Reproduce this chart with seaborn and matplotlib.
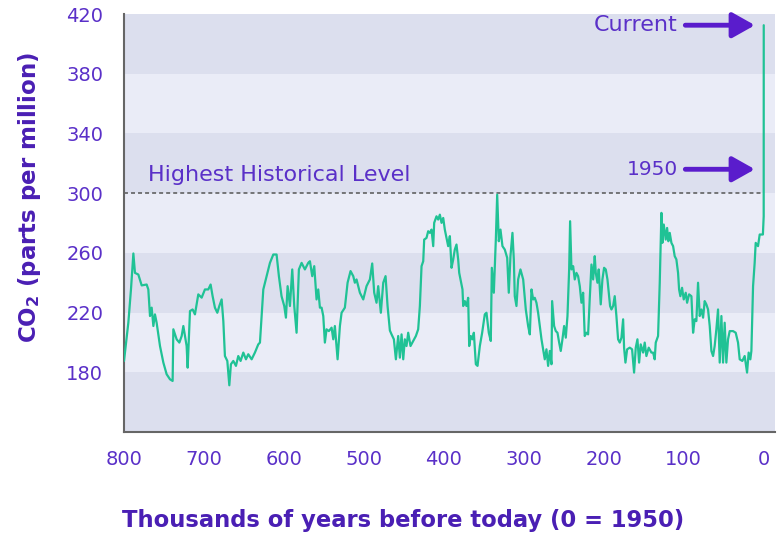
import numpy as np
import pandas as pd
import matplotlib
matplotlib.use("Agg")
import matplotlib.pyplot as plt
import seaborn as sns

# thousands of years before 1950 (negative = after 1950)
kyr_before = [
    800.0, 794.6, 791.3, 788.3, 786.3, 782.1, 777.9, 771.7, 769.6, 767.5, 765.4, 763.3, 761.3, 759.2,
    755.0, 750.8, 746.7, 742.5, 739.2, 738.3, 734.2, 730.8, 727.9, 725.8, 721.7, 720.4, 717.5, 714.2,
    711.3, 707.1, 702.9, 698.8, 694.6, 691.7, 689.2, 686.3, 683.3, 680.8, 677.9, 675.8, 673.8, 670.8,
    668.3, 666.3, 663.3, 660.0, 657.1, 654.2, 650.8, 647.5, 644.6, 640.4, 636.3, 632.1, 630.0, 625.8,
    621.7, 617.5, 613.3, 609.2, 606.3, 603.0, 599.6, 597.5, 595.4, 592.5, 589.6, 587.1, 584.2, 581.3,
    577.9, 573.8, 569.6, 567.5, 564.6, 562.1, 559.2, 557.1, 555.0, 552.9, 550.8, 548.8, 546.7, 543.8,
    540.4, 538.3, 536.3, 532.9, 530.0, 527.9, 523.8, 520.4, 516.7, 513.3, 511.3, 509.2, 505.0, 500.8,
    496.7, 492.5, 489.6, 487.1, 484.2, 482.1, 478.8, 475.8, 472.9, 470.4, 467.5, 465.4, 462.5, 460.0,
    457.1, 455.0, 452.9, 450.8, 448.8, 446.7, 444.6, 441.7, 438.3, 435.0, 432.1, 430.0, 427.9, 425.8,
    424.6, 421.7, 419.6, 417.5, 415.4, 413.3, 412.1, 409.2, 407.1, 405.0, 402.9, 400.8, 398.8, 396.7,
    394.6, 392.5, 390.4, 388.3, 386.3, 384.2, 382.1, 380.8, 379.2, 376.7, 375.8, 373.8, 371.7, 369.6,
    368.3, 366.3, 364.2, 362.5, 360.0, 357.9, 355.0, 352.1, 348.8, 346.7, 343.8, 341.3, 340.0, 337.5,
    335.0, 333.3, 331.3, 329.2, 326.7, 323.8, 320.8, 318.8, 316.7, 314.2, 312.5, 311.3, 309.2, 307.1,
    304.2, 300.8, 297.5, 294.6, 292.5, 290.4, 288.3, 286.3, 284.2, 282.1, 280.0, 277.9, 275.8, 273.8,
    271.7, 269.6, 267.5, 265.4, 264.6, 262.1, 260.0, 257.9, 255.8, 253.8, 251.7, 249.6, 247.5, 245.4,
    243.3, 242.1, 240.4, 238.3, 236.3, 234.2, 232.1, 230.0, 227.9, 225.8, 223.8, 221.7, 219.6, 217.5,
    215.4, 213.3, 211.3, 210.0, 207.9, 206.3, 203.8, 201.7, 199.6, 197.5, 195.4, 193.8, 192.1, 190.4,
    188.3, 186.3, 184.2, 182.1, 180.0, 177.9, 175.8, 174.6, 172.9, 170.8, 167.5, 164.6, 162.1, 160.0,
    157.9, 155.8, 153.8, 150.8, 148.8, 146.7, 143.8, 140.4, 138.3, 136.3, 135.0, 132.1, 130.0, 127.9,
    126.7, 125.0, 122.5, 120.8, 119.2, 117.5, 115.4, 113.3, 111.3, 109.2, 107.1, 105.8, 104.2, 102.1,
    100.0, 97.5, 95.8, 93.3, 90.4, 88.3, 86.3, 84.2, 82.1, 80.0, 77.9, 75.8, 73.8, 71.7,
    69.6, 67.5, 65.4, 63.3, 61.3, 59.2, 57.1, 55.0, 52.9, 50.8, 48.8, 46.7, 44.6, 42.5,
    38.3, 35.0, 32.1, 30.0, 26.7, 23.8, 20.8, 18.8, 16.7, 15.4, 13.3, 11.3, 10.0, 7.1,
    5.0, 1.0, 0.0, -0.07,
]
co2_ppm = [
    187.6, 213.2, 235.5, 259.6, 246.6, 245.5, 238.2, 238.8, 235.5, 217.7, 223.3, 211.0, 218.8, 213.2,
    197.6, 186.5, 178.7, 175.3, 174.2, 208.8, 202.1, 199.9, 204.3, 211.0, 197.6, 183.1, 221.0, 222.1,
    218.8, 232.2, 230.0, 235.5, 235.5, 238.8, 231.0, 223.3, 219.9, 224.4, 228.8, 214.3, 190.9, 187.6,
    171.3, 185.4, 187.6, 184.3, 190.9, 187.6, 193.2, 188.7, 192.1, 188.7, 193.2, 198.7, 199.9, 235.5,
    244.4, 253.3, 258.9, 258.9, 244.4, 231.0, 224.4, 216.6, 237.7, 224.4, 248.9, 224.4, 206.5, 248.9,
    253.3, 248.9, 253.3, 254.4, 244.4, 251.1, 228.8, 235.5, 223.3, 223.3, 217.7, 199.9, 208.8, 207.6,
    209.9, 202.1, 211.0, 188.7, 211.0, 219.9, 223.3, 240.0, 247.8, 244.4, 240.0, 242.2, 233.3, 228.8,
    237.7, 242.2, 252.9, 233.3, 226.6, 237.7, 219.9, 240.0, 244.4, 224.4, 208.0, 205.4, 202.1, 188.7,
    204.3, 189.8, 205.4, 188.7, 202.1, 197.6, 206.5, 197.6, 201.0, 204.3, 208.8, 224.4, 251.1, 254.4,
    268.9, 270.0, 274.5, 273.4, 275.6, 264.5, 280.1, 284.5, 282.3, 285.6, 280.1, 283.4, 275.6, 270.0,
    264.5, 271.2, 250.0, 255.6, 262.2, 265.6, 255.6, 246.6, 242.2, 235.5, 224.4, 227.7, 224.4, 229.9,
    197.6, 204.3, 202.1, 206.5, 185.4, 184.3, 197.6, 206.5, 218.8, 219.9, 206.5, 201.0, 250.0, 233.3,
    268.9, 299.0, 267.8, 275.6, 264.5, 262.2, 256.7, 233.3, 257.8, 273.4, 255.6, 231.0, 224.4, 242.2,
    248.9, 242.2, 222.0, 211.0, 205.4, 235.5, 228.8, 229.9, 226.6, 219.9, 211.0, 202.1, 195.4, 188.7,
    195.4, 184.3, 194.3, 185.4, 227.7, 211.0, 207.6, 206.5, 199.9, 194.3, 202.1, 211.0, 203.2, 217.7,
    248.9, 281.2, 248.9, 251.1, 242.2, 246.6, 244.4, 237.7, 226.6, 233.3, 204.3, 206.5, 205.4, 229.9,
    252.2, 242.2, 257.8, 246.6, 240.0, 248.9, 225.5, 242.2, 250.0, 248.9, 242.2, 233.3, 224.4, 222.1,
    224.4, 231.0, 217.7, 202.1, 199.9, 203.2, 215.5, 196.5, 186.5, 195.4, 196.5, 195.4, 179.8, 196.5,
    202.1, 186.5, 198.7, 193.2, 199.9, 190.9, 196.5, 193.2, 193.2, 188.7, 199.9, 204.3, 240.0, 286.8,
    266.7, 279.0, 268.9, 276.7, 267.8, 273.4, 266.7, 264.5, 257.8, 255.6, 246.6, 235.5, 231.0, 236.6,
    228.8, 233.3, 226.6, 232.2, 231.0, 206.5, 215.5, 214.3, 240.0, 217.7, 222.1, 216.6, 227.7, 225.5,
    222.1, 211.0, 194.3, 190.9, 197.6, 208.8, 222.1, 186.5, 217.7, 186.5, 213.2, 186.5, 202.1, 207.6,
    207.6, 206.5, 199.9, 188.7, 187.6, 190.9, 179.8, 193.2, 188.7, 194.3, 237.7, 253.3, 266.7, 264.5,
    272.3, 272.3, 284.5, 412.5,
]
y_ticks = [180, 220, 260, 300, 340, 380, 420]
x_ticks = [800, 700, 600, 500, 400, 300, 200, 100, 0]
highest_level = 300
current_level = 412.5
level_1950 = 316

df = pd.DataFrame({"kyr": kyr_before, "co2": co2_ppm})

sns.set_theme(style="white")
plt.rcParams["font.family"] = ["DejaVu Sans"]

purple = "#5a30c8"
dark_purple = "#4a1fb4"
arrow_purple = "#5a1ccc"
green = "#20c295"

fig = plt.figure(figsize=(7.78, 5.35), dpi=100)
ax = fig.add_axes([0.1594, 0.1925, 0.8366, 0.7813])

# alternating horizontal bands
band_edges = [140] + y_ticks
for i in range(len(band_edges) - 1):
    col = "#dcdfee" if i % 2 == 0 else "#eaecf7"
    ax.axhspan(band_edges[i], band_edges[i + 1], color=col, lw=0, zorder=0)

ax.hlines(highest_level, 800, 0, colors="#555555", linestyles=(0, (2.6, 2.0)), lw=1.1, zorder=1)

sns.lineplot(data=df, x="kyr", y="co2", estimator=None, sort=False, color=green, lw=1.6, ax=ax, zorder=3)

ax.set_xlim(800, -14)
ax.set_ylim(140, 420)
ax.set_xticks(x_ticks)
ax.set_yticks(y_ticks)

for s in ["top", "right"]:
    ax.spines[s].set_visible(False)
for s in ["left", "bottom"]:
    ax.spines[s].set_color("#666666")
    ax.spines[s].set_linewidth(1.5)
ax.tick_params(axis="y", length=10, width=1.5, color="#666666", labelcolor=purple, labelsize=14, pad=5)
ax.tick_params(axis="x", length=7, width=1.5, color="#666666", labelcolor=purple, labelsize=14, pad=6)

ax.set_xlabel("Thousands of years before today (0 = 1950)", fontsize=16.3, fontweight="bold", color=dark_purple)
ax.xaxis.set_label_coords(0.4286, -0.185)
ax.set_ylabel(r"CO$_\mathregular{2}$ (parts per million)", fontsize=16.5, fontweight="bold", color=dark_purple)
ax.yaxis.set_label_coords(-0.125, 0.562)

ax.text(770, 312.4, "Highest Historical Level", fontsize=16, color=purple, va="center", ha="left")
ax.text(107.5, current_level, "Current", fontsize=16, color=purple, va="center", ha="right")
ax.text(107.5, level_1950, "1950", fontsize=14.5, color=purple, va="center", ha="right")
for yv in [current_level, level_1950]:
    ax.annotate("", xy=(11, yv), xytext=(98, yv),
                arrowprops=dict(arrowstyle="-|>,head_length=0.8,head_width=0.45", lw=3.5,
                                color=arrow_purple, mutation_scale=17, shrinkA=0, shrinkB=0))

fig.savefig("out.png", dpi=100)
